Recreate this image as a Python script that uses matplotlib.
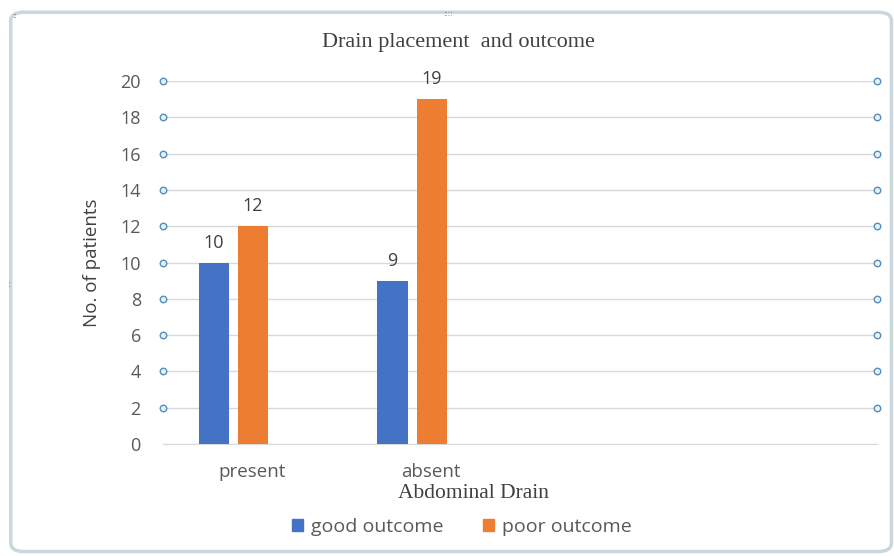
import numpy as np
import matplotlib.pyplot as plt
from matplotlib.patches import FancyBboxPatch
import matplotlib.transforms as mtransforms

# Data
categories = ['present', 'absent']
good_outcome = [10, 9]
poor_outcome = [12, 19]
y_ticks = [0, 2, 4, 6, 8, 10, 12, 14, 16, 18, 20]

blue = '#4472C4'
orange = '#ED7D31'
grey_text = '#595959'
sans = ['Open Sans', 'DejaVu Sans']
serif = ['Liberation Serif', 'DejaVu Serif']

fig = plt.figure(figsize=(8.95, 5.56), dpi=100)

# chart frame (Excel selection look)
frame = FancyBboxPatch((0.012, 0.008), 0.984, 0.97,
                       boxstyle='round,pad=0,rounding_size=0.015',
                       transform=fig.transFigure, facecolor='white',
                       edgecolor='#C8D8DC', linewidth=2.5, zorder=-5)
fig.patches.append(frame)
fig.text(0.5, 0.975, '::::', ha='center', va='center', fontsize=5, color='#777777')
fig.text(0.016, 0.972, '::', ha='center', va='center', fontsize=5, color='#777777')
fig.text(0.011, 0.49, ':', ha='center', va='center', fontsize=7, color='#777777')

ax = fig.add_axes([0.1821, 0.2014, 0.798, 0.6529])
ax.set_zorder(2)
ax.patch.set_alpha(0)
x = np.arange(len(categories))
w = 0.17
ax.bar(x - 0.215, good_outcome, width=w, color=blue, zorder=3)
ax.bar(x + 0.005, poor_outcome, width=w, color=orange, zorder=3)

for xi, v in zip(x - 0.215, good_outcome):
    ax.text(xi, v + 0.6, str(v), ha='center', va='bottom', fontsize=13,
            color='#404040', family=sans)
for xi, v in zip(x + 0.005, poor_outcome):
    ax.text(xi, v + 0.6, str(v), ha='center', va='bottom', fontsize=13,
            color='#404040', family=sans)

ax.set_xlim(-0.5, 3.5)
ax.set_ylim(0, 20)
ax.set_yticks(y_ticks)
ax.set_yticklabels([str(t) for t in y_ticks], family=sans, fontsize=13, color=grey_text)
ax.tick_params(axis='y', length=0, pad=16)
ax.set_xticks([])
ax.grid(axis='y', color='#D9D9D9', linewidth=1, zorder=0)
for s in ['top', 'right', 'left']:
    ax.spines[s].set_visible(False)
ax.spines['bottom'].set_color('#D9D9D9')

# gridline selection handles
trans = mtransforms.blended_transform_factory(ax.transAxes, ax.transData)
hy = y_ticks[1:]
for hx in [0, 1]:
    ax.scatter([hx] * len(hy), hy, s=22, marker='o', facecolor='#DDF3F8',
               edgecolor='#5B8DB8', linewidth=1, transform=trans, zorder=5, clip_on=False)

# category labels
for xi, c in zip(x, categories):
    ax.text(xi, -1.05, c, ha='center', va='top', fontsize=13.5, color=grey_text,
            family=sans, transform=ax.transData, clip_on=False)
fig.text(0.445, 0.113, 'Abdominal Drain', ha='left', va='center', fontsize=15.5,
         color='#404040', family=serif)

ax.set_ylabel('No. of patients', fontsize=13.5, color='#404040', family=sans, labelpad=14)
fig.text(0.512, 0.924, 'Drain placement  and outcome', ha='center', va='center',
         fontsize=16, color='#404040', family=serif)

# legend
handles = [plt.Rectangle((0, 0), 1, 1, color=blue), plt.Rectangle((0, 0), 1, 1, color=orange)]
fig.legend(handles, ['good outcome', 'poor outcome'], loc='center',
           bbox_to_anchor=(0.516, 0.052), ncol=2, frameon=False,
           prop={'family': sans, 'size': 14}, labelcolor=grey_text,
           handlelength=0.6, handleheight=0.6, handletextpad=0.4, columnspacing=2.0)

fig.savefig('out.png', dpi=100)
